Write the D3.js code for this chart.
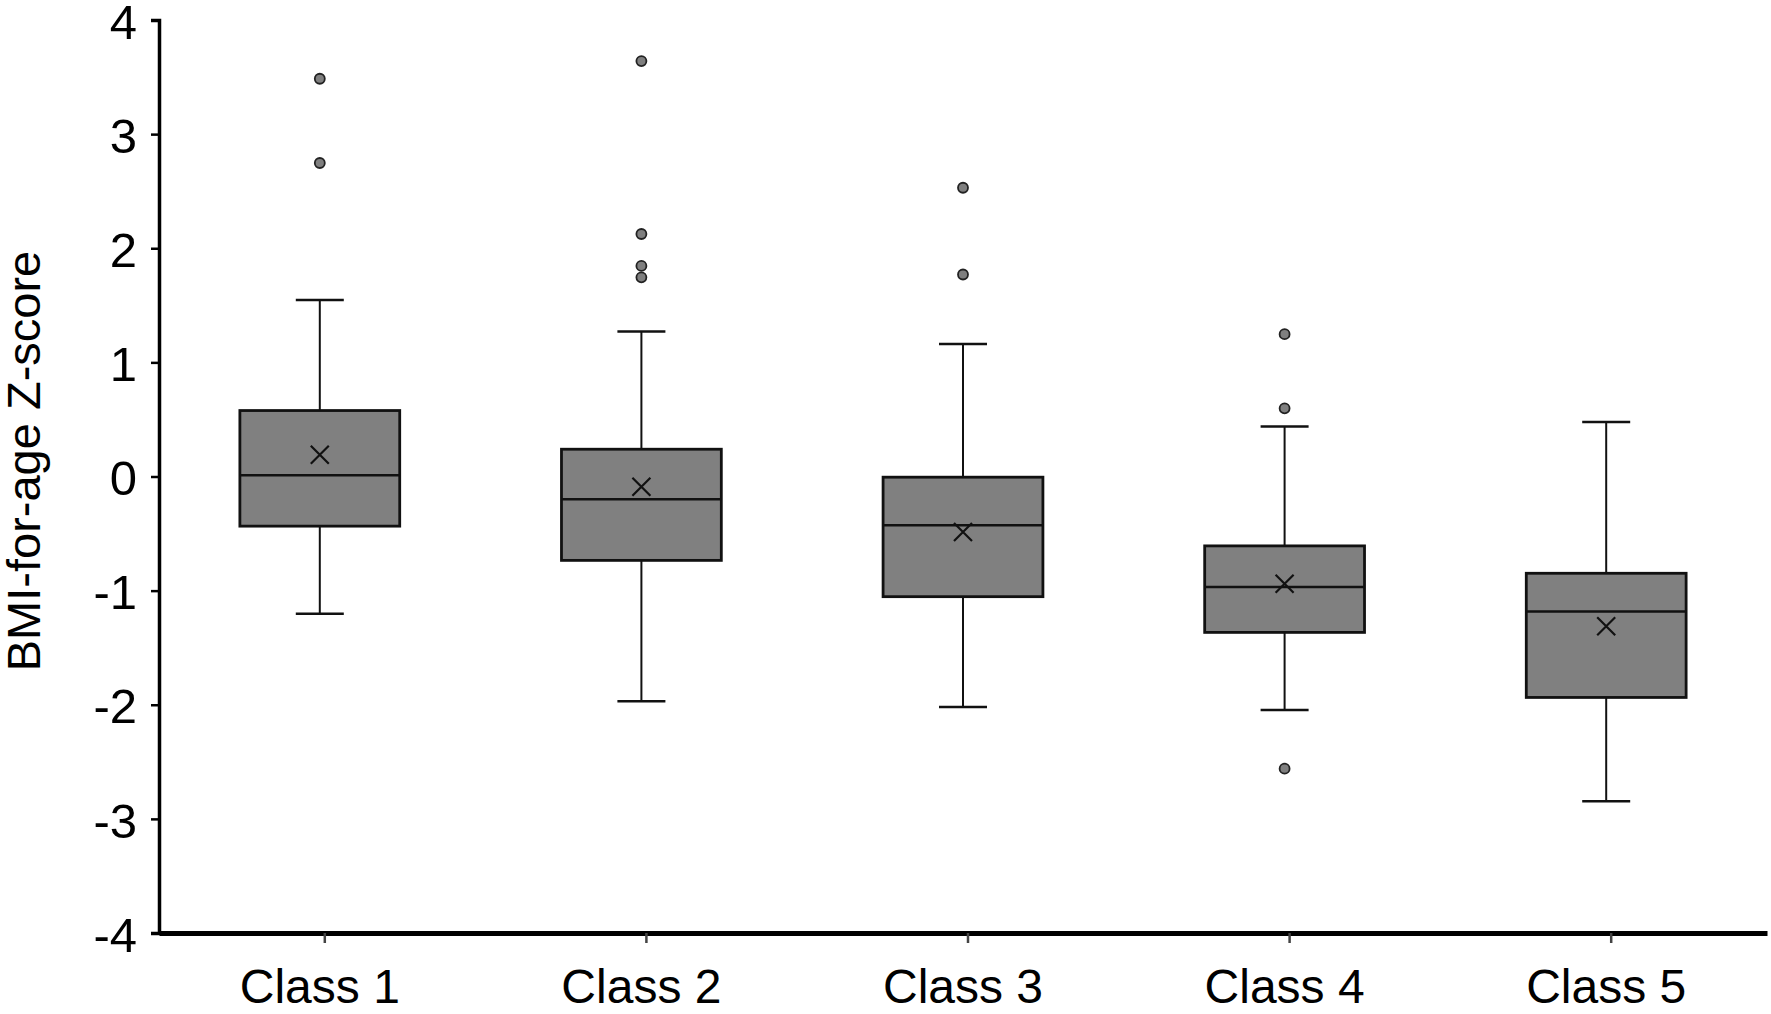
<!DOCTYPE html>
<html lang="en">
<head>
<meta charset="UTF-8">
<title>BMI-for-age Z-score by class</title>
<style>
  html, body { margin: 0; padding: 0; background: #fff; }
  .canvas text { font-family: "Liberation Sans", Arial, Helvetica, sans-serif; }
</style>
</head>
<body>
<div class="canvas"></div>
<script src="https://cdnjs.cloudflare.com/ajax/libs/d3/7.8.5/d3.min.js"></script>
<script>
// data
const classes = ['Class 1', 'Class 2', 'Class 3', 'Class 4', 'Class 5'];
const q1 = [-0.435, -0.735, -1.053, -1.366, -1.936];
const medians = [0.01, -0.2, -0.427, -0.969, -1.184];
const q3 = [0.578, 0.239, -0.006, -0.608, -0.848];
const whiskerLow = [-1.203, -1.97, -2.02, -2.045, -2.846];
const whiskerHigh = [1.547, 1.27, 1.16, 0.438, 0.478];
const means = [0.19, -0.089, -0.487, -0.94, -1.313];
const outliers = [
  [3.485, 2.747],
  [3.64, 2.125, 1.845, 1.745],
  [2.53, 1.77],
  [1.247, 0.597, -2.56],
  []
];
const yTicks = [-4, -3, -2, -1, 0, 1, 2, 3, 4];

const width = 1771;
const height = 1014;
const margin = {top: 20, right: 4, bottom: 81, left: 159};

const svg = d3.select('.canvas')
  .append('svg')
    .attr('width', width)
    .attr('height', height);

const x = d3.scaleBand()
  .domain(classes)
  .range([margin.left, width - margin.right]);

const y = d3.scaleLinear()
  .domain([-4, 4])
  .range([height - margin.bottom, margin.top]);

const boxes = classes.map((c, i) => ({
  name: c, q1: q1[i], med: medians[i], q3: q3[i],
  lo: whiskerLow[i], hi: whiskerHigh[i], mean: means[i], out: outliers[i]
}));

const boxW = x.bandwidth() * 0.497;
const capW = 48;
const cx = d => x(d.name) + x.bandwidth() / 2;

const g = svg.append('g');

// whiskers
g.selectAll('.stem-hi').data(boxes).enter().append('line')
  .attr('x1', cx).attr('x2', cx)
  .attr('y1', d => y(d.q3)).attr('y2', d => y(d.hi))
  .attr('stroke', '#111').attr('stroke-width', 2);
g.selectAll('.stem-lo').data(boxes).enter().append('line')
  .attr('x1', cx).attr('x2', cx)
  .attr('y1', d => y(d.q1)).attr('y2', d => y(d.lo))
  .attr('stroke', '#111').attr('stroke-width', 2);
g.selectAll('.cap-hi').data(boxes).enter().append('line')
  .attr('x1', d => cx(d) - capW / 2).attr('x2', d => cx(d) + capW / 2)
  .attr('y1', d => y(d.hi)).attr('y2', d => y(d.hi))
  .attr('stroke', '#111').attr('stroke-width', 2.5);
g.selectAll('.cap-lo').data(boxes).enter().append('line')
  .attr('x1', d => cx(d) - capW / 2).attr('x2', d => cx(d) + capW / 2)
  .attr('y1', d => y(d.lo)).attr('y2', d => y(d.lo))
  .attr('stroke', '#111').attr('stroke-width', 2.5);

// boxes
g.selectAll('rect').data(boxes).enter().append('rect')
  .attr('x', d => cx(d) - boxW / 2)
  .attr('width', boxW)
  .attr('y', d => y(d.q3))
  .attr('height', d => y(d.q1) - y(d.q3))
  .attr('fill', '#808080')
  .attr('stroke', '#111')
  .attr('stroke-width', 2.8);

// medians
g.selectAll('.median').data(boxes).enter().append('line')
  .attr('x1', d => cx(d) - boxW / 2).attr('x2', d => cx(d) + boxW / 2)
  .attr('y1', d => y(d.med)).attr('y2', d => y(d.med))
  .attr('stroke', '#111').attr('stroke-width', 2.5);

// mean markers (x)
const m = 9;
g.selectAll('.mean').data(boxes).enter().append('path')
  .attr('d', d => {
    const px = cx(d), py = y(d.mean);
    return `M${px - m},${py - m}L${px + m},${py + m}M${px - m},${py + m}L${px + m},${py - m}`;
  })
  .attr('fill', 'none')
  .attr('stroke', '#111')
  .attr('stroke-width', 2.2);

// outliers
const outPts = boxes.flatMap(d => d.out.map(v => ({name: d.name, v})));
g.selectAll('circle').data(outPts).enter().append('circle')
  .attr('cx', cx)
  .attr('cy', d => y(d.v))
  .attr('r', 5)
  .attr('fill', '#7f7f7f')
  .attr('stroke', '#222')
  .attr('stroke-width', 1.8);

// y axis
const yAxis = d3.axisLeft(y)
  .tickValues(yTicks)
  .tickSize(8)
  .tickPadding(14)
  .tickFormat(d => String(d));   // plain hyphen for negatives

const yAxisGroup = svg.append('g')
  .attr('transform', `translate(${margin.left}, 0)`)
  .call(yAxis);
yAxisGroup.select('.domain').attr('stroke', '#000').attr('stroke-width', 3.5);
yAxisGroup.selectAll('.tick line').attr('stroke', '#000').attr('stroke-width', 2.5);
yAxisGroup.selectAll('text')
  .attr('font-size', 49)
  .attr('dy', '0.37em')
  .attr('fill', '#000')
  .attr('font-family', '"Liberation Sans", Arial, sans-serif');

// x axis
const xAxis = d3.axisBottom(x)
  .tickSize(10)
  .tickPadding(26)
  .tickSizeOuter(0);

const xAxisGroup = svg.append('g')
  .attr('transform', `translate(0, ${height - margin.bottom})`)
  .call(xAxis);
xAxisGroup.select('.domain').attr('stroke', '#000').attr('stroke-width', 5);
xAxisGroup.selectAll('.tick line')
  .attr('stroke', '#444').attr('stroke-width', 2.5)
  .attr('transform', 'translate(5, 0)');
xAxisGroup.selectAll('text')
  .attr('font-size', 48)
  .attr('fill', '#000')
  .attr('font-family', '"Liberation Sans", Arial, sans-serif');

// y axis title
svg.append('text')
  .attr('transform', `translate(40, 461) rotate(-90)`)
  .attr('text-anchor', 'middle')
  .attr('font-size', 47)
  .attr('fill', '#000')
  .text('BMI-for-age Z-score');
</script>
</body>
</html>
